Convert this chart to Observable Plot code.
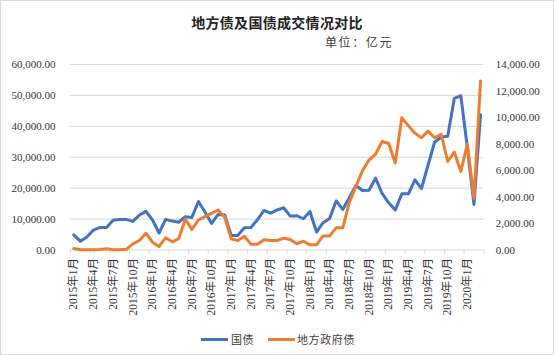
<!DOCTYPE html>
<html><head><meta charset="utf-8">
<script src="https://cdn.jsdelivr.net/npm/d3@7"></script>
<script src="https://cdn.jsdelivr.net/npm/@observablehq/plot@0.6"></script>
<style>
html,body{margin:0;padding:0;background:#fff}
#wrap{position:relative;width:554px;height:355px;overflow:hidden;background:#fff}
#chart{position:absolute;left:0;top:0}
#border{position:absolute;left:0;top:0;width:554px;height:355px;box-sizing:border-box;border:1px solid #d9d9d9;pointer-events:none}
.title{position:absolute;top:14px;left:0;width:554px;text-align:center;font:bold 14px/16px "Noto Sans CJK SC",sans-serif;color:#222;letter-spacing:0.3px}
.sub{position:absolute;top:34px;left:325px;font:12px/16px "Noto Sans CJK SC",sans-serif;color:#404040;letter-spacing:1.6px;white-space:nowrap}
.lg-line{position:absolute;height:3px;top:338px;width:27px}
.lg-text{position:absolute;top:331px;font:11px/16px "Noto Sans CJK SC",sans-serif;color:#404040;letter-spacing:0.6px;white-space:nowrap}
</style>
</head><body>
<div id="wrap">
  <div id="chart"></div>
  <div class="title">地方债及国债成交情况对比</div>
  <div class="sub">单位：亿元</div>
  <div class="lg-line" style="left:201px;background:#4472C4"></div>
  <div class="lg-text" style="left:231px">国债</div>
  <div class="lg-line" style="left:268px;background:#ED7D31"></div>
  <div class="lg-text" style="left:297px">地方政府债</div>
  <div id="border"></div>
</div>
<script>
// Categories: monthly, 2015年1月 .. 2020年3月
const months = [];
for (let y = 2015; y <= 2020; y++) for (let m = 1; m <= 12; m++) {
  if (y === 2020 && m > 3) break;
  months.push(y + "年" + m + "月");
}
// 国债 (left axis, 亿元)
const guozhai = [4900,2800,4200,6450,7300,7300,9600,9900,9900,9250,11300,12500,
  9700,5500,9900,9350,9000,10750,10550,15700,12300,8600,11500,11300,
  4730,4730,7200,7300,9800,12800,11900,12950,13650,10970,11080,10110,
  12470,5800,8820,10220,15920,13120,16880,20860,19250,19350,23230,18280,
  15270,12900,18170,18170,22690,19890,27420,34840,36560,36770,49030,49890,
  33000,14730,43760];
// 地方政府债 (right axis, 亿元)
const difang = [110,20,10,10,30,100,20,20,50,460,715,1265,
  590,263,918,617,865,2345,1545,2270,2520,2770,3020,2470,
  840,715,1040,440,440,765,715,715,890,790,465,665,
  390,390,1065,1065,1670,1670,3600,4780,5980,6790,7240,8190,
  8040,6560,9990,9370,8820,8470,8970,8470,8740,6680,7390,5930,
  7990,3900,12750];
const leftTicks = [0,10000,20000,30000,40000,50000,60000];
const rightTicks = [0,2000,4000,6000,8000,10000,12000,14000];

const K = 60000 / 14000;
const fmt = d3.format(",.2f");
const data = months.map((m, i) => ({i, m, g: guozhai[i], d: difang[i]}));
const labelIdx = d3.range(0, months.length, 3);
const FONT = '"Liberation Serif","Noto Sans CJK SC",serif';

const chart = Plot.plot({
  width: 554, height: 355,
  marginLeft: 70, marginRight: 70.7, marginTop: 64, marginBottom: 105.5,
  x: {type: "linear", domain: [0, months.length], label: null},
  y: {domain: [0, 60000], label: null},
  style: {fontFamily: FONT, fontSize: "11px", color: "#333", background: "transparent"},
  marks: [
    Plot.gridY(leftTicks, {stroke: "#d9d9d9", strokeOpacity: 1, strokeWidth: 1}),
    Plot.axisX({ticks: d3.range(0, months.length + 1, 3), tickFormat: () => "", tickSize: 4, stroke: "#d9d9d9", strokeOpacity: 1, label: null}),
    Plot.axisX({ticks: labelIdx.map(i => i + 0.5), tickFormat: d => months[Math.round(d - 0.5)], tickRotate: -90, tickSize: 0, tickPadding: 8, fontSize: 11.5, fontFamily: FONT, fill: "#333", label: null}),
    Plot.axisY({ticks: leftTicks, tickFormat: d => fmt(d), tickSize: 0, tickPadding: 15, fill: "#333", label: null}),
    Plot.axisY({anchor: "right", ticks: rightTicks.map(v => v * K), tickFormat: d => fmt(Math.round(d / K)), tickSize: 0, tickPadding: 12, fill: "#333", label: null}),
    Plot.line(data, {x: d => d.i + 0.5, y: "g", stroke: "#4472C4", strokeWidth: 3, strokeLinejoin: "round", strokeLinecap: "round"}),
    Plot.line(data, {x: d => d.i + 0.5, y: d => d.d * K, stroke: "#ED7D31", strokeWidth: 3, strokeLinejoin: "round", strokeLinecap: "round"})
  ]
});
document.getElementById("chart").appendChild(chart);
</script>
</body></html>
